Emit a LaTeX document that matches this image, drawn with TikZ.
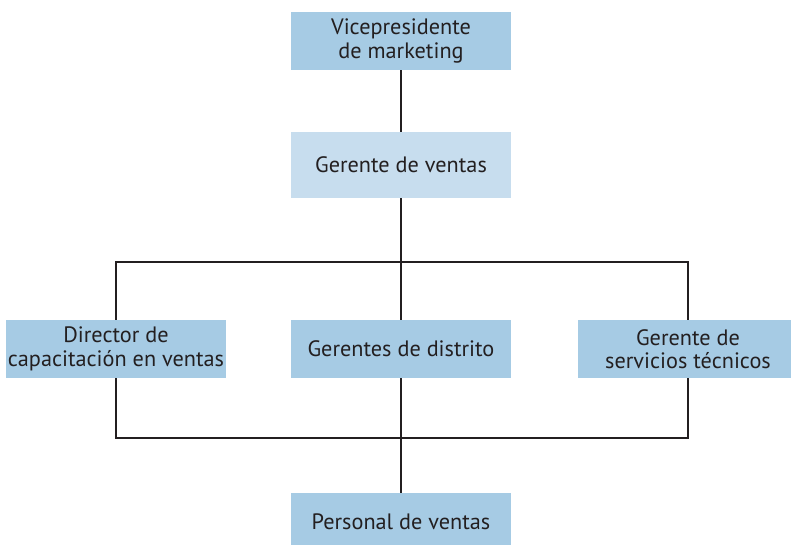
\documentclass[tikz,border=0pt]{standalone}
\usepackage{xcolor}
\usepackage{fontspec}
\setmainfont{PT Sans}
\usetikzlibrary{backgrounds}

\definecolor{boxblue}{RGB}{166,203,228}
\definecolor{boxlight}{RGB}{199,221,238}
\definecolor{linedark}{RGB}{35,31,32}

\tikzset{
  unit/.style={fill=boxblue, text=linedark, align=center, inner sep=0pt,
    minimum width=220*0.03cm, minimum height=58*0.03cm,
    font=\fontsize{19}{20}\selectfont},
  wire/.style={draw=linedark, line width=2.5pt}
}

\begin{document}
\begin{tikzpicture}[x=0.03cm, y=-0.03cm]
\useasboundingbox (0,0) rectangle (791,545);

\node[unit] (vp) at (401,41) {Vicepresidente\\de marketing};
\node[unit, fill=boxlight, minimum height=66*0.03cm] (gv) at (401,165) {Gerente de ventas};

\node[unit] (dc) at (116,349) {Director de\\capacitación en ventas};
\node[unit] (gd) at (401,349) {Gerentes de distrito};
\node[unit] (st) at (688,349) {Gerente de\\servicios técnicos};

\node[unit] (pv) at (401,522) {Personal de ventas};

\coordinate (topbar) at (401,262);
\coordinate (lowbar) at (401,438);

\begin{scope}[on background layer]
\draw[wire] (vp) -- (gv);
\draw[wire] (gv) -- (gd);
\draw[wire] (gd) -- (pv);
\draw[wire] (dc.center) |- (topbar) -| (st.center);
\draw[wire] (dc.center) |- (lowbar) -| (st.center);
\end{scope}
\end{tikzpicture}
\end{document}
